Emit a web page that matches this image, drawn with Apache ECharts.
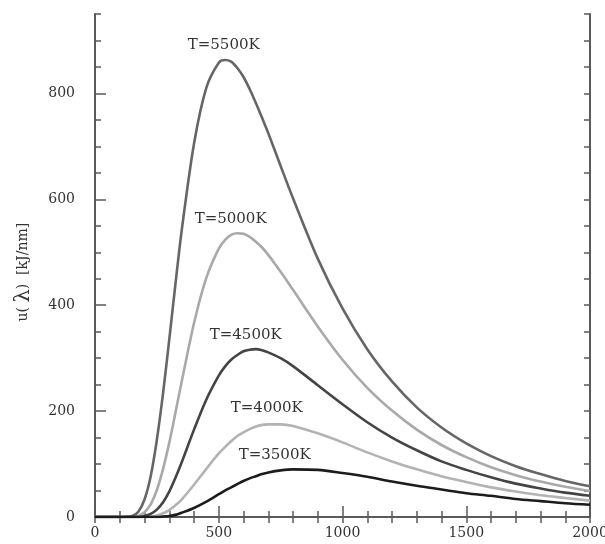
<!DOCTYPE html>
<html>
<head>
<meta charset="utf-8">
<script src="https://cdn.jsdelivr.net/npm/echarts@6/dist/echarts.min.js"></script>
<style>
  html, body { margin: 0; padding: 0; background: #fff; }
  #main { width: 605px; height: 544px; }
</style>
</head>
<body>
<div id="main"></div>
<script>
// wavelength (nm)
var wavelengths = [0, 100, 150, 175, 200, 225, 250, 275, 300, 325, 350, 400, 450, 500, 525, 550, 575, 600, 625, 650,
  675, 700, 750, 800, 900, 1000, 1100, 1200, 1300, 1400, 1500, 1600, 1700, 1800, 1900, 2000];

// u(lambda)
var t5500 = [0, 0, 2, 10, 33, 77, 146, 234, 335, 440, 540, 705, 811, 858, 863, 860, 848, 831, 808, 782,
  754, 725, 663, 602, 488, 394, 317, 256, 207, 169, 139, 115, 96, 81, 68, 58];
var t5000 = [0, 0, 0, 2, 9, 24, 51, 91, 140, 197, 255, 366, 452, 507, 523, 533, 536, 535, 529, 520,
  509, 495, 463, 429, 360, 297, 244, 201, 165, 136, 113, 94, 79, 67, 57, 49];
var t4500 = [0, 0, 0, 0, 2, 6, 14, 28, 48, 74, 103, 165, 222, 267, 284, 297, 306, 313, 316, 317,
  315, 311, 300, 285, 249, 213, 179, 150, 126, 105, 89, 75, 63, 54, 46, 40];
var t4000 = [0, 0, 0, 0, 0, 1, 3, 7, 13, 22, 33, 61, 91, 120, 132, 143, 153, 160, 166, 171,
  174, 175, 175, 172, 158, 141, 122, 105, 90, 77, 66, 56, 48, 41, 36, 31];
var t3500 = [0, 0, 0, 0, 0, 0, 0, 1, 2, 4, 8, 17, 29, 43, 50, 56, 62, 68, 73, 77,
  81, 84, 88, 90, 89, 83, 76, 67, 59, 52, 45, 40, 34, 30, 26, 23];

var curveNames = ['T=5500K', 'T=5000K', 'T=4500K', 'T=4000K', 'T=3500K'];

var chart = echarts.init(document.getElementById('main'));

function pairs(vals) {
  return wavelengths.map(function (w, i) { return [w, vals[i]]; });
}

var serif = 'DejaVu Serif';
var axisCol = '#5a5a5a';

function curve(name, vals, color, labelAt) {
  return {
    name: name,
    type: 'line',
    smooth: 0.3,
    showSymbol: false,
    lineStyle: { color: color, width: 2.6 },
    data: pairs(vals),
    markPoint: {
      symbol: 'circle',
      symbolSize: 0,
      silent: true,
      label: {
        show: true,
        position: 'inside',
        formatter: name,
        fontFamily: serif,
        fontSize: 15,
        color: '#333'
      },
      data: [{ coord: labelAt }]
    }
  };
}

var option = {
  animation: false,
  backgroundColor: '#fff',
  grid: { left: 95, right: 15, top: 14, bottom: 27, outerBoundsMode: 'none', containLabel: false },
  xAxis: [{
    type: 'value',
    position: 'bottom',
    min: 0,
    max: 2000,
    interval: 500,
    axisLine: { show: true, lineStyle: { color: axisCol, width: 2 } },
    axisTick: { show: true, inside: true, length: 11, lineStyle: { color: axisCol, width: 1.5 } },
    minorTick: { show: true, splitNumber: 5, length: 6, lineStyle: { color: axisCol, width: 1.5 } },
    axisLabel: {
      margin: 9, fontFamily: serif, fontSize: 14, color: '#333',
      formatter: function (v) { return String(v); }
    },
    splitLine: { show: false },
    minorSplitLine: { show: false }
  }, {
    type: 'value',
    position: 'top',
    min: 0,
    max: 2000,
    interval: 100,
    axisLine: { show: true, lineStyle: { color: axisCol, width: 2 } },
    axisTick: { show: true, inside: true, length: 6, lineStyle: { color: axisCol, width: 1.5 } },
    axisLabel: { show: false },
    splitLine: { show: false }
  }],
  yAxis: [{
    type: 'value',
    position: 'left',
    min: 0,
    max: 950,
    interval: 50,
    axisLine: { show: true, lineStyle: { color: axisCol, width: 2 } },
    axisTick: { show: true, inside: true, length: 6, lineStyle: { color: axisCol, width: 1.5 } },
    axisLabel: { show: false },
    splitLine: { show: false }
  }, {
    type: 'value',
    position: 'left',
    min: 0,
    max: 950,
    interval: 200,
    name: 'u( {l|λ})  [kJ/nm]   ',
    nameLocation: 'middle',
    nameGap: 61,
    nameRotate: 90,
    nameTextStyle: {
      fontFamily: serif,
      fontSize: 14,
      color: '#333',
      rich: { l: { fontFamily: serif, fontSize: 21, color: '#333' } }
    },
    axisLine: { show: false },
    axisTick: { show: true, inside: true, length: 11, lineStyle: { color: axisCol, width: 1.5 } },
    axisLabel: { margin: 20, fontFamily: serif, fontSize: 14, color: '#333', showMaxLabel: false },
    splitLine: { show: false }
  }, {
    type: 'value',
    position: 'right',
    min: 0,
    max: 950,
    interval: 50,
    axisLine: { show: true, lineStyle: { color: axisCol, width: 2 } },
    axisTick: { show: true, inside: true, length: 6, lineStyle: { color: axisCol, width: 1.5 } },
    axisLabel: { show: false },
    splitLine: { show: false }
  }],
  series: [
    curve(curveNames[1], t5000, '#a9a9a9', [548, 562]),
    curve(curveNames[3], t4000, '#b3b3b3', [694, 206]),
    curve(curveNames[0], t5500, '#666666', [520, 891]),
    curve(curveNames[2], t4500, '#444444', [609, 343]),
    curve(curveNames[4], t3500, '#1c1c1c', [726, 117])
  ]
};

chart.setOption(option);
</script>
</body>
</html>
